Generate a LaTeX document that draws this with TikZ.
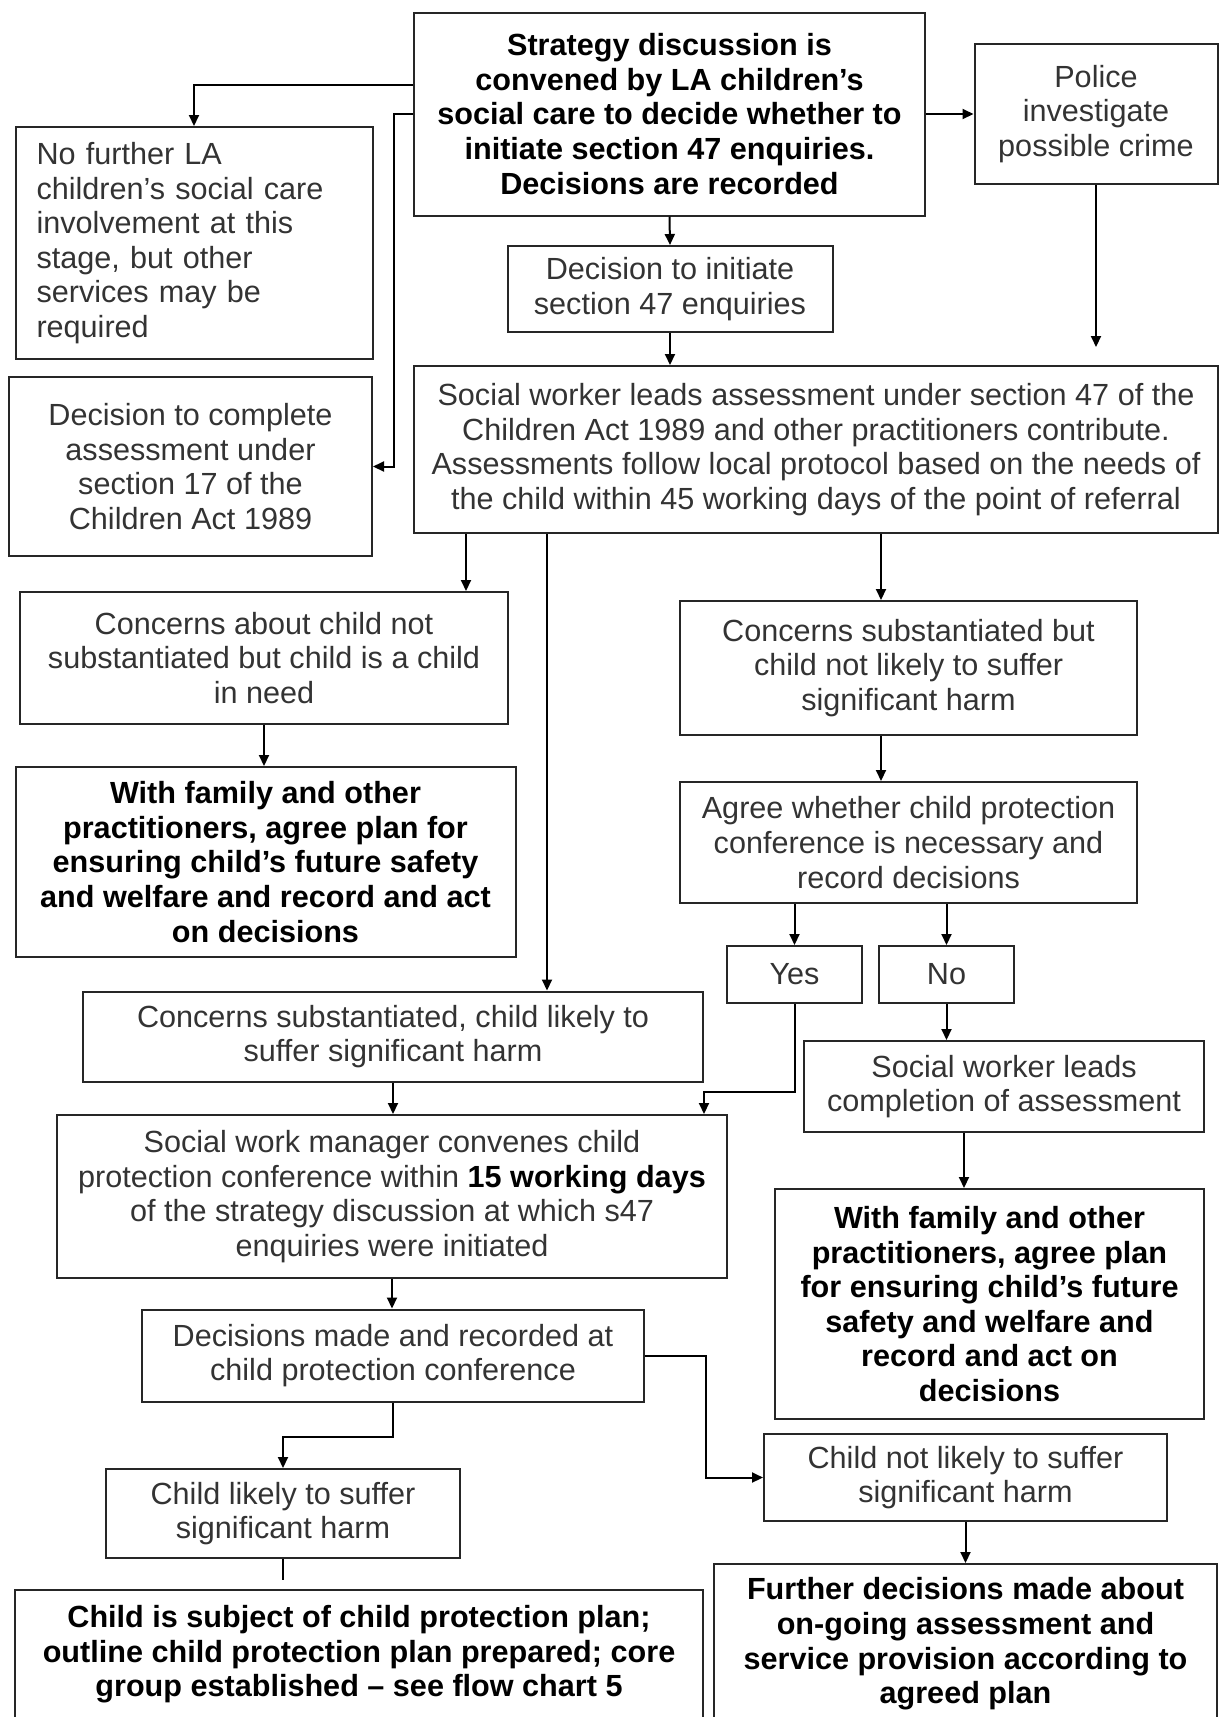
\documentclass[tikz,border=0pt]{standalone}
\usepackage{fontspec}
\setmainfont{Liberation Sans}
\usetikzlibrary{arrows.meta,positioning}

\begin{document}
\begin{tikzpicture}[x=1pt,y=-1pt,>={Triangle[length=11pt,width=10pt]},
 line width=2pt,
 every node/.style={font=\fontsize{30.6}{34.6}\selectfont},
 box/.style={draw=black!85,align=center,inner sep=0pt,text=black!80},
 bbox/.style={box,text=black,font=\fontsize{30.6}{34.6}\selectfont\bfseries}]
\useasboundingbox (0,0) rectangle (1220,1717);
% top row
\node[bbox,minimum width=511,minimum height=203] (strat) at (669.5,114) {Strategy discussion is\\convened by LA children’s\\social care to decide whether to\\initiate section 47 enquiries.\\Decisions are recorded};
\node[box,minimum width=243,minimum height=140] (police) at (1096,114) {Police\\investigate\\possible crime};
\node[box,align=left,text width=315,inner xsep=21,minimum height=232] (nofurther) at (194,243) {No further LA\\children’s social care\\involvement at this\\stage, but other\\services may be\\required};
\node[box,minimum width=363,minimum height=179] (sec17) at (190.5,466.5) {Decision to complete\\assessment under\\section 17 of the\\Children Act 1989};
\node[box,minimum width=325,minimum height=86] (init) at (670,289) {Decision to initiate\\section 47 enquiries};
\node[box,minimum width=804,minimum height=167] (assess) at (816,449.5) {Social worker leads assessment under section 47 of the\\Children Act 1989 and other practitioners contribute.\\Assessments follow local protocol based on the needs of\\the child within 45 working days of the point of referral};
% middle
\node[box,minimum width=488,minimum height=132] (notsub) at (264,658) {Concerns about child not\\substantiated but child is a child\\in need};
\node[bbox,minimum width=500,minimum height=190] (famL) at (265.5,862) {With family and other\\practitioners, agree plan for\\ensuring child’s future safety\\and welfare and record and act\\on decisions};
\node[box,minimum width=457,minimum height=134] (subnot) at (908.5,668) {Concerns substantiated but\\child not likely to suffer\\significant harm};
\node[box,minimum width=457,minimum height=121] (agree) at (908.5,842.5) {Agree whether child protection\\conference is necessary and\\record decisions};
\node[box,minimum width=135,minimum height=57] (yes) at (794.5,974.5) {Yes};
\node[box,minimum width=135,minimum height=57] (no) at (946.5,974.5) {No};
\node[box,minimum width=620,minimum height=90] (sublik) at (393,1036.5) {Concerns substantiated, child likely to\\suffer significant harm};
\node[box,minimum width=400,minimum height=91] (swcomp) at (1004,1086.5) {Social worker leads\\completion of assessment};
\node[box,minimum width=670,minimum height=163] (swm) at (392,1196.5) {Social work manager convenes child\\protection conference within \textbf{\color{black}15 working days}\\of the strategy discussion at which s47\\enquiries were initiated};
\node[bbox,minimum width=429,minimum height=230] (famR) at (989.5,1304) {With family and other\\practitioners, agree plan\\for ensuring child’s future\\safety and welfare and\\record and act on\\decisions};
% bottom
\node[box,minimum width=502,minimum height=92] (decmade) at (393,1355.5) {Decisions made and recorded at\\child protection conference};
\node[box,minimum width=403,minimum height=87] (notlik) at (965.5,1477.5) {Child not likely to suffer\\significant harm};
\node[box,minimum width=354,minimum height=89] (likely) at (283,1513.5) {Child likely to suffer\\significant harm};
\node[bbox,minimum width=688,minimum height=129] (cpplan) at (359,1654.5) {Child is subject of child protection plan;\\outline child protection plan prepared; core\\group established – see flow chart 5};
\node[bbox,minimum width=503,minimum height=160] (further) at (965.5,1644) {Further decisions made about\\on-going assessment and\\service provision according to\\agreed plan};
% branch points
\coordinate (polend) at ([yshift=-162pt]police.south);
\coordinate (b1) at ([xshift=53pt]assess.south west);
\coordinate (b2) at ([xshift=134pt]assess.south west);
\coordinate (b3) at ([xshift=468pt]assess.south west);
\coordinate (yturn) at ([yshift=-88pt]yes.south);
\coordinate (famin) at ([xshift=-40pt]swcomp.south);
\coordinate (lend) at ([yshift=-21pt]likely.south);
% connectors
\draw[->] ([yshift=29pt]strat.west) -| (nofurther.north);
\draw[->] (strat.west) -- ++(-19,0) |- (sec17.east);
\draw[->] (strat.east) -- (police.west);
\draw[->] (strat.south) -- (init.north);
\draw[->] (init.south) -- (init.south|-assess.north);
\draw[->] (police.south) -- (polend);
\draw[->] (b1) -- (b1|-notsub.north);
\draw[->] (b2) -- (b2|-sublik.north);
\draw[->] (b3) -- (b3|-subnot.north);
\draw[->] (notsub.south) -- (notsub.south|-famL.north);
\draw[->] (b3|-subnot.south) -- (b3|-agree.north);
\draw[->] (yes.north|-agree.south) -- (yes.north);
\draw[->] (no.north|-agree.south) -- (no.north);
\draw[->] (yes.south) -- (yturn) -| (sublik.east|-swm.north);
\draw[->] (no.south) -- (no.south|-swcomp.north);
\draw[->] (sublik.south) -- (sublik.south|-swm.north);
\draw[->] (famin) -- (famin|-famR.north);
\draw[->] (swm.south) -- (swm.south|-decmade.north);
\draw[->] (decmade.south) -- ++(0,34) -| (likely.north);
\draw[->] (decmade.east) -- ++(61,0) |- (notlik.west);
\draw (likely.south) -- (lend);
\draw[->] (notlik.south) -- (notlik.south|-further.north);
\end{tikzpicture}
\end{document}
